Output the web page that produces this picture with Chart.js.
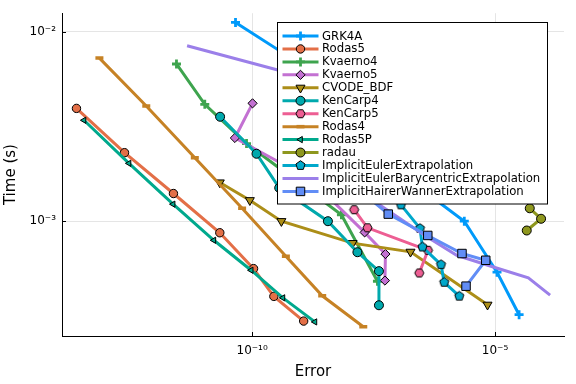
<!DOCTYPE html>
<html>
<head>
<meta charset="utf-8">
<script src="https://cdn.jsdelivr.net/npm/chart.js@4.4.1/dist/chart.umd.min.js"></script>
<style>
  html, body { margin: 0; padding: 0; background: #fff; }
</style>
</head>
<body>
<canvas id="chart" width="576" height="384"></canvas>
<script>
// values (error vs time, both log)
const errGRK4A = [4.55e-11, 5.98e-10, 1.03e-8, 1.77e-7, 2.33e-6, 1.10e-5, 3.13e-5];
const timeGRK4A = [1.12e-2, 7.33e-3, 3.38e-3, 1.64e-3, 1.0e-3, 5.38e-4, 3.21e-4];
const errRodas5 = [2.42e-14, 2.36e-13, 2.40e-12, 2.16e-11, 1.07e-10, 2.80e-10, 1.15e-9];
const timeRodas5 = [3.94e-3, 2.30e-3, 1.40e-3, 8.69e-4, 5.62e-4, 4.01e-4, 2.97e-4];
const errKvaerno4 = [2.77e-12, 1.06e-11, 7.67e-11, 7.23e-10, 6.89e-9, 3.80e-8];
const timeKvaerno4 = [6.76e-3, 4.14e-3, 2.57e-3, 1.67e-3, 1.08e-3, 4.82e-4];
const errKvaerno5 = [1.02e-10, 4.41e-11, 1.55e-9, 2.07e-8, 5.55e-8, 5.42e-8];
const timeKvaerno5 = [4.19e-3, 2.75e-3, 1.67e-3, 8.73e-4, 6.71e-4, 4.86e-4];
const errCVODE = [2.16e-11, 8.97e-11, 4.00e-10, 1.17e-8, 1.82e-7, 7.01e-6];
const timeCVODE = [1.60e-3, 1.29e-3, 1.00e-3, 7.66e-4, 6.89e-4, 3.62e-4];
const errKenCarp4 = [2.19e-11, 1.23e-10, 3.61e-10, 3.63e-9, 1.47e-8, 4.08e-8, 4.08e-8];
const timeKenCarp4 = [3.56e-3, 2.27e-3, 1.50e-3, 1.0e-3, 6.86e-4, 5.45e-4, 3.60e-4];
const errKenCarp5 = [1.26e-8, 2.37e-8, 4.17e-7, 2.76e-7];
const timeKenCarp5 = [1.15e-3, 9.23e-4, 7.02e-4, 5.33e-4];
const errRodas4 = [7.18e-14, 6.62e-13, 6.61e-12, 6.22e-11, 4.95e-10, 2.77e-9, 1.94e-8];
const timeRodas4 = [7.26e-3, 4.06e-3, 2.16e-3, 1.17e-3, 6.53e-4, 4.04e-4, 2.77e-4];
const errRodas5P = [3.46e-14, 2.92e-13, 2.36e-12, 1.63e-11, 9.55e-11, 4.30e-10, 1.96e-9];
const timeRodas5P = [3.41e-3, 2.02e-3, 1.23e-3, 7.93e-4, 5.51e-4, 3.94e-4, 2.94e-4];
const errRadau = [5.19e-5, 8.87e-5, 4.50e-5];
const timeRadau = [1.17e-3, 1.03e-3, 8.93e-4];
const errIEE = [5.42e-8, 1.16e-7, 2.85e-7, 3.21e-7, 7.73e-7, 8.99e-7, 1.84e-6];
const timeIEE = [1.60e-3, 1.22e-3, 9.16e-4, 7.31e-4, 5.90e-4, 4.76e-4, 4.02e-4];
const errIEBE = [4.58e-12, 2.48e-9, 8.13e-9, 4.17e-7, 1.63e-6, 9.23e-6, 4.85e-5, 1.36e-4];
const timeIEBE = [8.44e-3, 5.48e-3, 1.62e-3, 8.2e-4, 6.61e-4, 5.73e-4, 5.02e-4, 4.07e-4];
const errIHWE = [1.66e-8, 6.34e-8, 4.13e-7, 2.09e-6, 6.44e-6, 2.53e-6];
const timeIHWE = [1.45e-3, 1.09e-3, 8.41e-4, 6.75e-4, 6.22e-4, 4.54e-4];

const xTicks = [1e-10, 1e-5];
const xTickLabels = ["10⁻¹⁰", "10⁻⁵"];
const yTicks = [1e-3, 1e-2];
const yTickLabels = ["10⁻³", "10⁻²"];

const FONT = "'DejaVu Sans', sans-serif";

// pentagon / hexagon markers (chart.js has none)
function polyMarker(n, r, fill, rot) {
  const c = document.createElement("canvas");
  const s = Math.ceil(2 * r + 3);
  c.width = s; c.height = s;
  const g = c.getContext("2d");
  g.beginPath();
  for (let i = 0; i < n; i++) {
    const a = rot + i * 2 * Math.PI / n;
    const px = s / 2 + r * Math.cos(a), py = s / 2 + r * Math.sin(a);
    i ? g.lineTo(px, py) : g.moveTo(px, py);
  }
  g.closePath();
  g.fillStyle = fill; g.fill();
  g.strokeStyle = "#000"; g.lineWidth = 1; g.stroke();
  return c;
}

const series = [
  { name: "GRK4A", err: errGRK4A, time: timeGRK4A, color: "#009AFA", style: "cross", r: 4.5 },
  { name: "Rodas5", err: errRodas5, time: timeRodas5, color: "#E36F47", style: "circle", r: 4.2 },
  { name: "Kvaerno4", err: errKvaerno4, time: timeKvaerno4, color: "#3EA44E", style: "cross", r: 4.5 },
  { name: "Kvaerno5", err: errKvaerno5, time: timeKvaerno5, color: "#C371D2", style: "rectRot", r: 4.6 },
  { name: "CVODE_BDF", err: errCVODE, time: timeCVODE, color: "#AC8E18", style: "triangle", rot: 180, r: 5.2 },
  { name: "KenCarp4", err: errKenCarp4, time: timeKenCarp4, color: "#00A9AD", style: "circle", r: 4.5 },
  { name: "KenCarp5", err: errKenCarp5, time: timeKenCarp5, color: "#ED5E93", style: polyMarker(6, 4.6, "#ED5E93", 0), r: 4.5 },
  { name: "Rodas4", err: errRodas4, time: timeRodas4, color: "#C68225", style: "line", r: 4, bw: 3.5, plain: true },
  { name: "Rodas5P", err: errRodas5P, time: timeRodas5P, color: "#00A98D", style: "triangle", rot: -90, r: 3.6 },
  { name: "radau", err: errRadau, time: timeRadau, color: "#8E971E", style: "circle", r: 4.5 },
  { name: "ImplicitEulerExtrapolation", err: errIEE, time: timeIEE, color: "#00A8CB", style: polyMarker(5, 4.8, "#00A8CB", -Math.PI / 2), r: 4.5 },
  { name: "ImplicitEulerBarycentricExtrapolation", err: errIEBE, time: timeIEBE, color: "#9B7FE9", style: false, r: 0 },
  { name: "ImplicitHairerWannerExtrapolation", err: errIHWE, time: timeIHWE, color: "#618DF6", style: "rect", r: 6 }
];

const N = series.length;
const datasets = series.map((s, i) => {
  const isCross = s.style === "cross" || s.plain;
  return {
    label: s.name,
    data: s.err.map((e, j) => ({ x: e, y: s.time[j] })),
    borderColor: s.color,
    backgroundColor: s.color,
    borderWidth: 3,
    pointStyle: s.style,
    pointRotation: s.rot || 0,
    pointRadius: s.r,
    pointHoverRadius: s.r,
    pointBackgroundColor: s.color,
    pointBorderColor: isCross ? s.color : "#000",
    pointBorderWidth: isCross ? (s.bw || 2.8) : 1,
    tension: 0,
    order: N - i
  };
});

// legend drawn inside the plot, over the lines
const innerLegend = {
  id: "innerLegend",
  afterDraw(chart) {
    const ctx = chart.ctx;
    const x0 = 277.5, y0 = 22.5, w = 270, h = 181.5, row = 12.95;
    ctx.save();
    ctx.fillStyle = "#fff";
    ctx.fillRect(x0, y0, w, h);
    ctx.strokeStyle = "#000";
    ctx.lineWidth = 1;
    ctx.strokeRect(x0, y0, w, h);
    ctx.font = "11.7px " + FONT;
    ctx.textBaseline = "middle";
    series.forEach((s, i) => {
      const y = 36 + i * row;
      ctx.strokeStyle = s.color;
      ctx.lineWidth = 3;
      ctx.beginPath();
      ctx.moveTo(282.5, y);
      ctx.lineTo(318.5, y);
      ctx.stroke();
      if (s.style) {
        const d = datasets[i];
        ctx.fillStyle = s.color;
        ctx.strokeStyle = d.pointBorderColor;
        ctx.lineWidth = d.pointBorderWidth;
        Chart.helpers.drawPoint(ctx, { pointStyle: s.style, rotation: s.rot || 0, radius: s.r, borderWidth: d.pointBorderWidth }, 300.5, y);
      }
      ctx.fillStyle = "#000";
      ctx.fillText(s.name, 322, y + 0.5);
    });
    ctx.restore();
  }
};

// short inward tick marks like the original
const innerTicks = {
  id: "innerTicks",
  afterDraw(chart) {
    const { ctx, chartArea: a, scales } = chart;
    ctx.save();
    ctx.strokeStyle = "#000";
    ctx.lineWidth = 1;
    ctx.beginPath();
    xTicks.forEach(v => {
      const px = Math.round(scales.x.getPixelForValue(v)) + 0.5;
      ctx.moveTo(px, a.bottom); ctx.lineTo(px, a.bottom - 4);
    });
    yTicks.forEach(v => {
      const py = Math.round(scales.y.getPixelForValue(v)) + 0.5;
      ctx.moveTo(a.left, py); ctx.lineTo(a.left + 4, py);
    });
    ctx.stroke();
    ctx.restore();
  }
};

new Chart(document.getElementById("chart"), {
  type: "line",
  data: { datasets },
  options: {
    responsive: false,
    animation: false,
    devicePixelRatio: 1,
    layout: { padding: { top: 12, right: 12, left: 0, bottom: 0 } },
    plugins: { legend: { display: false }, tooltip: { enabled: false } },
    scales: {
      x: {
        type: "logarithmic",
        min: Math.pow(10, -13.914),
        max: Math.pow(10, -3.58),
        afterBuildTicks: (sc) => { sc.ticks = xTicks.map(v => ({ value: v })); },
        afterFit: (sc) => { sc.height = 48; },
        ticks: {
          autoSkip: false, maxRotation: 0, padding: 8,
          color: "#000", font: { family: FONT, size: 12 },
          callback: (v) => xTickLabels[xTicks.indexOf(v)]
        },
        grid: { color: "rgba(0,0,0,0.1)", lineWidth: 1, drawTicks: false },
        border: { display: true, color: "#000", width: 1 },
        title: { display: true, text: "Error", color: "#000", font: { family: FONT, size: 15 }, padding: { top: 0, bottom: 3 } }
      },
      y: {
        type: "logarithmic",
        min: Math.pow(10, -3.606),
        max: Math.pow(10, -1.902),
        afterBuildTicks: (sc) => { sc.ticks = yTicks.map(v => ({ value: v })); },
        afterFit: (sc) => { sc.width = 62; },
        ticks: {
          autoSkip: false, padding: 6,
          color: "#000", font: { family: FONT, size: 12 },
          callback: (v) => yTickLabels[yTicks.indexOf(v)]
        },
        grid: { color: "rgba(0,0,0,0.1)", lineWidth: 1, drawTicks: false },
        border: { display: true, color: "#000", width: 1 },
        title: { display: true, text: "Time (s)", color: "#000", font: { family: FONT, size: 15 }, padding: { top: 2, bottom: 0 } }
      }
    }
  },
  plugins: [innerTicks, innerLegend]
});
</script>
</body>
</html>
